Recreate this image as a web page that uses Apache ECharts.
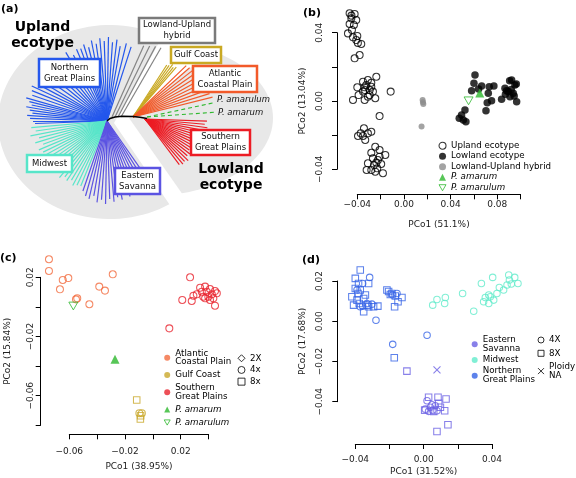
<!DOCTYPE html>
<html><head><meta charset="utf-8">
<script src="https://cdn.jsdelivr.net/npm/echarts@6/dist/echarts.min.js"></script>
<style>html,body{margin:0;padding:0;background:#fff}#c{width:576px;height:478px}</style>
</head><body><div id="c"></div>
<script>
// ================= DATA =================
// Panel (a) tree: branch angle (deg, counter-clockwise from east) and branch length (tree units)
const ngpAngles = [72,76,80,83,86,89,92,95,98,101,104,107,110,113,117,121,125,129,133,137,141,145,149,152,155,158,161,164,166,168,170,172,174,176,178,180,182];
const ngpLengths = [78,80,76,82,79,84,80,83,78,82,76,80,77,78,74,80,76,78,75,79,77,82,80,78,83,81,79,84,80,77,82,78,75,80,77,74,72];
const mwAngles = [185,188,191,194,197,200,203,206,209,212,215,218,221,224,227,230,233,236,239,242,245,248];
const mwLengths = [76,72,78,70,75,68,74,71,77,69,73,70,76,72,68,74,70,72,69,73,71,70];
const esAngles = [251,254,257,260,263,266,269,272,275,278,281,284,287,290,293,296,299,302,305];
const esLengths = [74,78,80,76,82,79,83,78,81,77,80,76,79,75,77,73,75,72,70];
const hybridBases = [112,115,118,121];
const hybridAngles = [66,64,62,60];
const hybridLengths = [78,79,80,80];
const gcAngles = [49,51,53,55,57];
const gcLengths = [66,64,66,63,62];
const acpAngles = [14,17,20,23,26,29,32,35,38,41,44];
const acpLengths = [82,80,83,79,81,78,80,77,79,75,74];
const sgpAngles = [-2,-5,-8,-11,-14,-17,-20,-23,-26,-29,-32,-35,-38,-41,-44,-47,-50,-53];
const sgpLengths = [62,60,63,58,61,57,60,56,59,55,58,54,57,56,60,58,59,57];
const greenAngles = [12,4];
const greenLengths = [70,70];
const treeUplandNode = [107,121];
const treeLowlandNode = [133,117];
const treeSouthNode = [145,119];
const treeGreenNode = [147,117];
const treeBackbone = [[107,121],[110,118.5],[115,117],[122,116.3],[133,116.5],[140,117.2],[147,118.5]];

// Panel (b) PCoA, [PCo1, PCo2]
const bUpland = [[-0.0466,0.0514],[-0.0423,0.0510],[-0.0451,0.0484],[-0.0409,0.0474],[-0.0466,0.0451],[-0.0429,0.0445],[-0.0446,0.0416],[-0.0480,0.0396],[-0.0400,0.0381],[-0.0437,0.0373],[-0.0409,0.0357],[-0.0366,0.0334],[-0.0380,0.0269],[-0.0423,0.0250],[-0.0450,0.0500],[-0.0395,0.0340],
 [-0.0237,0.0142],[-0.0309,0.0123],[-0.0351,0.0113],[-0.0400,0.0080],[-0.0337,0.0080],[-0.0294,0.0064],[-0.0266,0.0055],[-0.0309,0.0025],[-0.0246,0.0016],[-0.0437,0.0006],[-0.0337,0.0006],[-0.0114,0.0055],[-0.0209,-0.0088],[-0.0389,0.0035],[-0.0351,0.0055],[-0.0280,0.0084],[-0.0323,0.0094],[-0.0294,0.0035],[-0.0334,0.0064],[-0.0280,0.0107],
 [-0.0343,-0.0160],[-0.0394,-0.0205],[-0.0351,-0.0205],[-0.0309,-0.0189],[-0.0332,-0.0228],[-0.0280,-0.0180],[-0.0371,-0.0189],
 [-0.0246,-0.0268],[-0.0280,-0.0303],[-0.0209,-0.0287],[-0.0160,-0.0316],[-0.0266,-0.0336],[-0.0223,-0.0346],[-0.0309,-0.0365],[-0.0257,-0.0375],[-0.0195,-0.0369],[-0.0280,-0.0404],[-0.0229,-0.0394],[-0.0180,-0.0423],[-0.0320,-0.0404],[-0.0246,-0.0414],[-0.0209,-0.0326],[-0.0237,-0.0361]];
const bLowland = [[0.0609,0.0152],[0.0600,0.0104],[0.0666,0.0088],[0.0731,0.0084],[0.0771,0.0088],[0.0580,0.0060],[0.0723,0.0045],[0.0923,0.0123],[0.0951,0.0094],[0.0866,0.0074],[0.0894,0.0055],[0.0937,0.0045],[0.0909,0.0025],[0.0966,-0.0004],[0.0837,0.0010],[0.0751,0.0002],[0.0714,-0.0010],[0.0703,-0.0057],[0.0523,-0.0053],[0.0494,-0.0082],[0.0474,-0.0101],[0.0531,-0.0121],[0.0509,-0.0111],[0.0906,0.0119],[0.0963,0.0100],[0.0880,0.0060],[0.0920,0.0068],[0.0945,0.0030],[0.0870,0.0040],[0.0640,0.0070]];
const bHybrid = [[0.0160,0.0006],[0.0163,-0.0008],[0.0166,-0.0018],[0.0151,-0.0150]];
const bAmarum = [[0.0650,0.0047]];
const bAmarulum = [[0.0554,0.0001]];

// Panel (c) lowland PCoA
const cAtlantic = [[-0.0746,0.0322],[-0.0746,0.0243],[-0.0647,0.0182],[-0.0607,0.0195],[-0.0667,0.0119],[-0.0385,0.0137],[-0.0344,0.0110],[-0.0288,0.0220],[-0.0543,0.0058],[-0.0552,0.0051],[-0.0456,0.0018]];
const cSouthern = [[0.0267,0.0200],[0.0339,0.0130],[0.0375,0.0137],[0.0410,0.0121],[0.0446,0.0107],[0.0387,0.0103],[0.0423,0.0085],[0.0459,0.0092],[0.0315,0.0085],[0.0291,0.0076],[0.0362,0.0069],[0.0398,0.0069],[0.0434,0.0058],[0.0446,0.0008],[0.0211,0.0047],[0.0279,0.0040],[0.0410,0.0047],[0.0375,0.0058],[0.0351,0.0103],[0.0118,-0.0145]];
const cGulf4x = [[-0.0097,-0.0718],[-0.0079,-0.0718]];
const cGulf8x = [[-0.0116,-0.0629],[-0.0090,-0.0757],[-0.0088,-0.0735]];
const cAmarum = [[-0.0272,-0.0354]];
const cAmarulum = [[-0.0571,0.0006]];

// Panel (d) upland PCoA
const dNgp8x = [[-0.0371,0.0255],[-0.0400,0.0213],[-0.0381,0.0188],[-0.0371,0.0155],[-0.0420,0.0122],[-0.0390,0.0105],[-0.0351,0.0113],[-0.0410,0.0080],[-0.0377,0.0088],[-0.0326,0.0080],[-0.0351,0.0047],[-0.0322,0.0072],[-0.0268,0.0075],[-0.0322,0.0188],[-0.0341,0.0130],[-0.0293,0.0072],[-0.0400,0.0163],[-0.0384,0.0138],
 [-0.0215,0.0155],[-0.0186,0.0138],[-0.0166,0.0125],[-0.0127,0.0118],[-0.0170,0.0072],[-0.0150,0.0097],[-0.0195,0.0133],[-0.0205,0.0148],[-0.0172,-0.0182]];
const dNgp4x = [[-0.0316,0.0218],[-0.0357,0.0188],[-0.0390,0.0155],[-0.0357,0.0075],[-0.0332,0.0088],[-0.0371,0.0072],[-0.0279,0.0005],[-0.0303,0.0085],[-0.0181,0.0130],[-0.0156,0.0138],[-0.0181,-0.0115],[0.0020,-0.0070]];
const dMw4x = [[0.0053,0.0080],[0.0078,0.0108],[0.0127,0.0118],[0.0123,0.0088],[0.0228,0.0138],[0.0293,0.0050],[0.0338,0.0188],[0.0404,0.0218],[0.0498,0.0230],[0.0533,0.0218],[0.0381,0.0088],[0.0361,0.0118],[0.0390,0.0122],[0.0410,0.0105],[0.0429,0.0138],[0.0443,0.0168],[0.0468,0.0155],[0.0488,0.0180],[0.0513,0.0185],[0.0552,0.0188],[0.0502,0.0205],[0.0381,0.0130],[0.0351,0.0097]];
const dEs4x = [[0.0020,-0.0395],[0.0049,-0.0415],[0.0039,-0.0428],[0.0010,-0.0437],[0.0068,-0.0420],[0.0029,-0.0448],[0.0053,-0.0442],[0.0078,-0.0445]];
const dEs8x = [[0.0029,-0.0378],[0.0084,-0.0378],[0.0131,-0.0387],[0.0006,-0.0442],[0.0059,-0.0448],[0.0123,-0.0445],[0.0142,-0.0515],[0.0078,-0.0548],[0.0088,-0.0408],[0.0098,-0.0428],[-0.0098,-0.0248]];
const dEsNA = [[0.0078,-0.0242]];

// ================= STYLE / HELPERS =================
const FONT = 'DejaVu Sans';
const C = {
  ngp:'#2457EC', mw:'#57E5C9', es:'#5B53E2', hyb:'#848484', gc:'#C9A923', acp:'#F25A2A', sgp:'#EC1C24', green:'#2DB82D',
  dNgp:'#3563E6', dMw:'#62EBCB', dEs:'#6A60E4', cAcp:'#F36B3E', cGc:'#C9A82B', cSgp:'#E8232D'
};
const INV_TRI = 'path://M0,0L10,0L5,8.66Z';
const CROSS = 'path://M0,0L10,10M0,10L10,0';
const OPEN = (c, w) => ({color:'rgba(0,0,0,0)', borderColor:c, borderWidth:w || 1.05});
const FILL = c => ({color:c, borderColor:c, borderWidth:0});

function branches(origin, angles, lengths) {
  return angles.map((a, i) => {
    const r = a * Math.PI / 180;
    return {coords:[origin.slice(), [origin[0] + lengths[i]*Math.cos(r), origin[1] - lengths[i]*Math.sin(r)]]};
  });
}
function hybridBranches() {
  return hybridBases.map((bx, i) => {
    const r = hybridAngles[i] * Math.PI / 180;
    return {coords:[[bx,117],[bx + hybridLengths[i]*Math.cos(r), 117 - hybridLengths[i]*Math.sin(r)]]};
  });
}
function treeLines(name, data, color, extra) {
  return Object.assign({type:'lines', name, coordinateSystem:'cartesian2d', xAxisIndex:0, yAxisIndex:0,
    data, silent:true, lineStyle:{color, width:1.2, opacity:1}, z:3}, extra || {});
}
function sc(name, gi, data, symbol, size, style, extra) {
  return Object.assign({type:'scatter', name, xAxisIndex:gi, yAxisIndex:gi, data, symbol, symbolSize:size,
    symbolKeepAspect:true, itemStyle:style, clip:false, silent:true, z:4}, extra || {});
}
function fmt(v) {
  if (Math.abs(v) < 1e-9) return '0.00';
  return v.toFixed(2).replace('-', '\u2212');
}
const mod4 = v => ((Math.round(v*100) % 4) + 4) % 4;
function xAx(gi, min, max, rule, name, offset, margin, nameGap) {
  return {type:'value', gridIndex:gi, min, max, interval:0.02, offset, position:'bottom',
    axisLine:{show:true, onZero:false, lineStyle:{color:'#000', width:1}},
    axisTick:{show:true, length:5, lineStyle:{color:'#000', width:1}},
    splitLine:{show:false},
    axisLabel:{margin, fontSize:9, fontFamily:FONT, color:'#222', showMinLabel:true, showMaxLabel:true, hideOverlap:false,
      formatter: v => rule(v) ? fmt(v) : ''},
    name, nameLocation:'middle', nameGap, nameTextStyle:{fontSize:9, fontFamily:FONT, color:'#222'}};
}
function yAx(gi, min, max, rule, name, offset, margin, nameGap) {
  const a = xAx(gi, min, max, rule, name, offset, margin, nameGap);
  a.position = 'left';
  a.axisLabel.rotate = 90;
  return a;
}
function legendBase(left, top, gap, iw, lh) {
  return {orient:'vertical', left, top, padding:0, itemGap:gap, itemWidth:iw, itemHeight:iw, selectedMode:false,
    textStyle:{fontSize:8.7, fontFamily:FONT, color:'#000', lineHeight:lh}};
}
const ital = {fontStyle:'italic'};

// background blobs for panel (a) (decoration)
function blob(cx, cy, rx, ry, a0, a1, apex) {
  const pts = [apex];
  for (let a = a0; a <= a1; a += 3) {
    const r = a * Math.PI / 180;
    pts.push([cx + rx*Math.cos(r), cy - ry*Math.sin(r)]);
  }
  return pts;
}
function box(x, y, w, h, color, text) {
  return [
    {type:'rect', z:20, shape:{x, y, width:w, height:h}, style:{fill:'#fff', stroke:color, lineWidth:2.5}},
    {type:'text', z:21, style:{x:x + w/2, y:y + h/2, text, align:'center', verticalAlign:'middle',
      fontSize:8.5, fontFamily:FONT, fill:'#111', lineHeight:11}}
  ];
}
function label(x, y, text, opts) {
  return {type:'text', z:21, style:Object.assign({x, y, text, fontFamily:FONT, fill:'#000', verticalAlign:'middle'}, opts)};
}

// ================= OPTION =================
const grids = [
  {left:0, top:0, width:288, height:240},
  {left:357.3, top:32.7, width:163.3, height:136.6},
  {left:69.3, top:277.3, width:139.3, height:148},
  {left:355.3, top:281, width:136.7, height:120.7}
].map(g => Object.assign(g, {containLabel:false, outerBoundsMode:'none'}));

const option = {
  animation:false,
  backgroundColor:'#fff',
  grid:grids,
  xAxis:[
    {type:'value', gridIndex:0, min:0, max:288, show:false},
    xAx(1, -0.04, 0.10, v => mod4(v) === 0, 'PCo1 (51.1%)', 25, 6, 26),
    xAx(2, -0.06, 0.04, v => mod4(v) === 2, 'PCo1 (38.95%)', 9, 12.4, 27.5),
    xAx(3, -0.04, 0.04, v => mod4(v) === 0, 'PCo1 (31.52%)', 42.3, 11.5, 22.7)
  ],
  yAxis:[
    {type:'value', gridIndex:0, min:0, max:240, inverse:true, show:false},
    yAx(1, -0.04, 0.04, v => mod4(v) === 0, 'PCo2 (13.04%)', 20.3, 13, 29.5),
    yAx(2, -0.08, 0.02, v => mod4(v) === 2, 'PCo2 (15.84%)', 28.6, 6, 28.5),
    yAx(3, -0.04, 0.02, v => true, 'PCo2 (17.68%)', 18, 13.3, 29.8)
  ],
  legend:[
    Object.assign(legendBase(438.5, 140.6, 0.25, 7, 10.25), {data:[
      {name:'Upland ecotype', icon:'circle', itemStyle:OPEN('#000')},
      {name:'Lowland ecotype', icon:'circle', itemStyle:FILL('#000')},
      {name:'Lowland-Upland hybrid', icon:'circle', itemStyle:FILL('#8c8c8c')},
      {name:'P. amarum', icon:'triangle', itemStyle:FILL(C.green), textStyle:ital},
      {name:'P. amarulum', icon:INV_TRI, itemStyle:OPEN(C.green, 1), textStyle:ital}
    ]}),
    Object.assign(legendBase(163.7, 349, 4, 6, 8.5), {data:[
      {name:'Atlantic\nCoastal Plain', icon:'circle', itemStyle:FILL(C.cAcp)},
      {name:'Gulf Coast', icon:'circle', itemStyle:FILL(C.cGc)},
      {name:'Southern\nGreat Plains', icon:'circle', itemStyle:FILL(C.cSgp)},
      {name:'P. amarum', icon:'triangle', itemStyle:FILL(C.green), textStyle:ital},
      {name:'P. amarulum', icon:INV_TRI, itemStyle:OPEN(C.green, 1), textStyle:ital}
    ]}),
    Object.assign(legendBase(237.5, 353.5, 2.2, 7, 9.5), {data:[
      {name:'2X', icon:'diamond', itemStyle:OPEN('#000', 1)},
      {name:'4x', icon:'circle', itemStyle:OPEN('#000', 1)},
      {name:'8x', icon:'rect', itemStyle:OPEN('#000', 1)}
    ]}),
    Object.assign(legendBase(471.7, 335.3, 2.2, 6, 9), {data:[
      {name:'Eastern\nSavanna', icon:'circle', itemStyle:FILL(C.dEs)},
      {name:'Midwest', icon:'circle', itemStyle:FILL(C.dMw)},
      {name:'Northern\nGreat Plains', icon:'circle', itemStyle:FILL(C.dNgp)}
    ]}),
    Object.assign(legendBase(537.5, 335.5, 4.3, 6, 9), {data:[
      {name:'4X', icon:'circle', itemStyle:OPEN('#000', 1)},
      {name:'8X', icon:'rect', itemStyle:OPEN('#000', 1)},
      {name:'Ploidy\nNA', icon:CROSS, itemStyle:OPEN('#000', 1)}
    ]})
  ],
  series:[
    // panel (a) tree
    treeLines('NGP branches', branches(treeUplandNode, ngpAngles, ngpLengths), C.ngp),
    treeLines('MW branches', branches(treeUplandNode, mwAngles, mwLengths), C.mw),
    treeLines('ES branches', branches(treeUplandNode, esAngles, esLengths), C.es),
    treeLines('Hybrid branches', hybridBranches(), C.hyb),
    treeLines('GC branches', branches(treeLowlandNode, gcAngles, gcLengths), C.gc),
    treeLines('ACP branches', branches(treeLowlandNode, acpAngles, acpLengths), C.acp),
    treeLines('SGP branches', branches(treeSouthNode, sgpAngles, sgpLengths), C.sgp),
    treeLines('Green branches', branches(treeGreenNode, greenAngles, greenLengths), C.green,
      {lineStyle:{color:C.green, width:1.1, type:[4,3], opacity:1}}),
    treeLines('Backbone', [{coords:treeBackbone}], '#000', {polyline:true, lineStyle:{color:'#000', width:1.6, opacity:1}, z:5}),
    // panel (b)
    sc('Upland ecotype', 1, bUpland, 'circle', 7, OPEN('#000')),
    sc('Lowland ecotype', 1, bLowland, 'circle', 7.5, FILL('#000')),
    sc('Lowland-Upland hybrid', 1, bHybrid, 'circle', 6, FILL('#8c8c8c')),
    sc('P. amarum', 1, bAmarum, 'triangle', 9, FILL(C.green), {z:6}),
    sc('P. amarulum', 1, bAmarulum, INV_TRI, 9, OPEN(C.green, 1), {z:6}),
    // panel (c)
    sc('Atlantic\nCoastal Plain', 2, cAtlantic, 'circle', 7, OPEN(C.cAcp)),
    sc('Southern\nGreat Plains', 2, cSouthern, 'circle', 7, OPEN(C.cSgp)),
    sc('Gulf Coast', 2, cGulf4x, 'circle', 7, OPEN(C.cGc)),
    sc('Gulf Coast', 2, cGulf8x, 'rect', 6.5, OPEN(C.cGc)),
    sc('P. amarum', 2, cAmarum, 'triangle', 9, FILL(C.green), {z:6}),
    sc('P. amarulum', 2, cAmarulum, INV_TRI, 9, OPEN(C.green, 1), {z:6}),
    sc('2X', 2, [], 'diamond', 7, OPEN('#000', 1)),
    sc('4x', 2, [], 'circle', 7, OPEN('#000', 1)),
    sc('8x', 2, [], 'rect', 7, OPEN('#000', 1)),
    // panel (d)
    sc('Northern\nGreat Plains', 3, dNgp8x, 'rect', 6.5, OPEN(C.dNgp)),
    sc('Northern\nGreat Plains', 3, dNgp4x, 'circle', 6.5, OPEN(C.dNgp)),
    sc('Midwest', 3, dMw4x, 'circle', 6.5, OPEN(C.dMw)),
    sc('Eastern\nSavanna', 3, dEs4x, 'circle', 6.5, OPEN(C.dEs)),
    sc('Eastern\nSavanna', 3, dEs8x, 'rect', 6.5, OPEN(C.dEs)),
    sc('Eastern\nSavanna', 3, dEsNA, CROSS, 7, OPEN(C.dEs, 1.1)),
    sc('4X', 3, [], 'circle', 6, OPEN('#000', 1)),
    sc('8X', 3, [], 'rect', 6, OPEN('#000', 1)),
    sc('Ploidy\nNA', 3, [], CROSS, 6, OPEN('#000', 1))
  ],
  graphic:{elements:[
    {type:'polygon', z:0, shape:{points:blob(110,122,112,97,62,302,[114,123])}, style:{fill:'#E8E8E8'}},
    {type:'polygon', z:0, shape:{points:blob(150,118,123,78,-75,62,[129,118])}, style:{fill:'#E8E8E8'}},
    ...box(39,59,61,28,C.ngp,'Northern\nGreat Plains'),
    ...box(139,18,76,25,'#7a7a7a','Lowland-Upland\nhybrid'),
    ...box(171,47,50,16,C.gc,'Gulf Coast'),
    ...box(193,66,64,26,C.acp,'Atlantic\nCoastal Plain'),
    ...box(191,130,59,25,C.sgp,'Southern\nGreat Plains'),
    ...box(27,155,45,17,C.mw,'Midwest'),
    ...box(115,168,45,26,C.es,'Eastern\nSavanna'),
    label(217,100,'P. amarulum',{fontSize:8.5, fontStyle:'italic', fill:'#111'}),
    label(218,113,'P. amarum',{fontSize:8.5, fontStyle:'italic', fill:'#111'}),
    label(42.5,35,'Upland\necotype',{fontSize:14, fontWeight:'bold', align:'center', lineHeight:16}),
    label(231,177,'Lowland\necotype',{fontSize:14, fontWeight:'bold', align:'center', lineHeight:16}),
    label(1,9,'(a)',{fontSize:11, fontWeight:'bold'}),
    label(303,13,'(b)',{fontSize:11, fontWeight:'bold'}),
    label(0,258,'(c)',{fontSize:11, fontWeight:'bold'}),
    label(302,260.5,'(d)',{fontSize:11, fontWeight:'bold'})
  ]}
};
const chart = echarts.init(document.getElementById('c'), null, {renderer:'canvas'});
chart.setOption(option);
</script></body></html>
